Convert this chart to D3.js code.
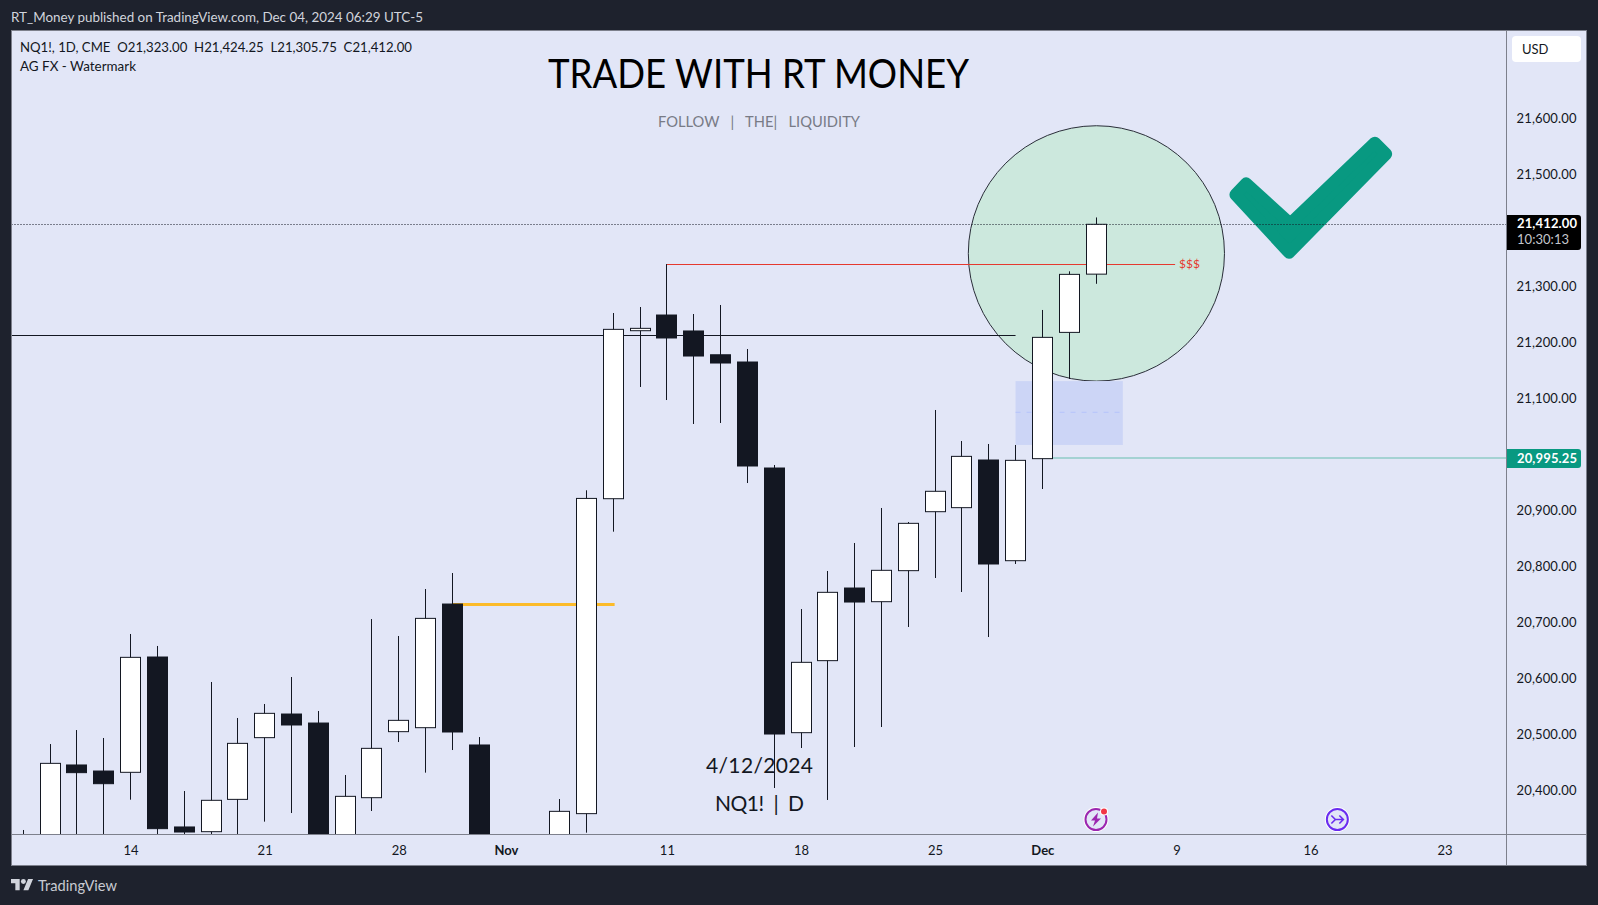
<!DOCTYPE html>
<html><head><meta charset="utf-8">
<script src="https://cdn.jsdelivr.net/npm/d3@7/dist/d3.min.js"></script>
<style>
html,body{margin:0;padding:0;background:#1e222d;overflow:hidden}
svg{display:block}
text{font-family:Lato,"Noto Sans",sans-serif;white-space:pre}
</style></head><body><svg id="c" width="1598" height="905"></svg>
<script>
// ---------- data ----------
const dates=["Oct 8","Oct 9","Oct 10","Oct 11","Oct 14","Oct 15","Oct 16","Oct 17","Oct 18","Oct 21","Oct 22","Oct 23","Oct 24","Oct 25","Oct 28","Oct 29","Oct 30","Oct 31","Nov 1","Nov 4","Nov 5","Nov 6","Nov 7","Nov 8","Nov 11","Nov 12","Nov 13","Nov 14","Nov 15","Nov 18","Nov 19","Nov 20","Nov 21","Nov 22","Nov 25","Nov 26","Nov 27","Nov 29","Dec 2","Dec 3","Dec 4"];
const opens =[20200,20280,20446.5,20435.7,20433.4,20639.3,20335.8,20327.4,20385.1,20495.3,20537.5,20521.4,20300,20388.1,20506,20513.1,20733.9,20482.2,20200,20230,20190,20359.6,20922,21222,21250,21221.5,21179,21166.1,20976.8,20504.2,20632.8,20762.5,20738.1,20793.5,20898.8,20906,20991.1,20811.3,20993.5,21219,21323];
const highs =[20330.4,20483.9,20508.9,20494.7,20680.4,20659,20400,20594.7,20530.4,20555.4,20603.6,20542.9,20428.6,20707.1,20676.8,20760.7,20789.3,20496.4,20310,20300,20385.7,20937,21253.6,21264.3,21341,21251.8,21267.9,21189.3,20982.2,20725,20792.9,20842.9,20905.4,20880.4,21080.4,21025,21019.7,21017.9,21259,21328,21424.25];
const lows  =[20180,20250,20300,20300,20384.5,20310,20315,20318,20300,20345.3,20360.7,20250,20280,20364.3,20487.5,20432.8,20473.2,20230,20150,20130,20170,20325.6,20863.1,21121.5,21098.2,21055.4,21057.2,20950,20405.4,20476.8,20384,20478.6,20514.3,20692.9,20780.4,20755.4,20675,20805.4,20939.3,21135.8,21305.75];
const closes=[20290,20449.4,20432.8,20413.1,20638.7,20332.8,20326.8,20383.4,20485.1,20538.7,20517.9,20280,20390.5,20476.2,20526.2,20708.3,20505.4,20250,20230,20190,20363.7,20922.5,21224.4,21226.2,21209,21176.8,21164.3,20980.4,20501.8,20629.8,20754.8,20737.5,20794.1,20878,20935.2,20997.6,20805.4,20990.5,21210.1,21322.6,21412];

const yTickValues=[21600,21500,21300,21200,21100,20900,20800,20700,20600,20500,20400];
const xTickIdx   =[4,9,14,18,24,29,34,38,43,48,53];
const xTickLabels=["14","21","28","Nov","11","18","25","Dec","9","16","23"];
const xTickBold  =["Nov","Dec"];

const lastPrice=21412, prevClose=20995.25;
const levelBlack=21213.75, levelBlackEnd=37;
const levelYellow=20733.9, yellowFrom=16, yellowTo=22.05;
const levelRed=21341, redFrom=24, redTo=42.95;
const zoneTop=21132, zoneBottom=21018, zoneMid=21076.3, zoneFrom=37, zoneTo=41;
const circleIdx=40, circleRx=4.776, circleTop=21588, circleBottom=21132;
const checkIdx  =[45.6,45.2,47.2,50.82,50.4,47.24];
const checkPrice=[21485.2,21465,21361.1,21537.5,21557.7,21413.4];

// ---------- layout ----------
const L=11.5,R=1586.5,T=30.5,B=865.5,AX=1506.5,AY=834.5;
const x=d3.scaleLinear().domain([0,40]).range([23.3,1096]);
const y=d3.scaleLinear().domain([20400,21600]).range([791.02,119.02]);
const ink="#131722", bg="#e2e6f7";

const svg=d3.select("#c");
svg.append("rect").attr("width",1598).attr("height",905).attr("fill","#1e222d");
svg.append("rect").attr("x",L).attr("y",T).attr("width",R-L).attr("height",B-T).attr("fill",bg).attr("stroke","#7d808c");
svg.append("clipPath").attr("id","pane").append("rect").attr("x",L+.5).attr("y",T+.5).attr("width",AX-L-1).attr("height",AY-T-1);
const p=svg.append("g").attr("clip-path","url(#pane)");

// circle + zone
p.append("ellipse").attr("cx",x(circleIdx)+.4).attr("cy",(y(circleTop)+y(circleBottom))/2)
 .attr("rx",x(circleIdx+circleRx)-x(circleIdx)).attr("ry",(y(circleBottom)-y(circleTop))/2)
 .attr("fill","#cce8dd").attr("stroke","#2a2e39").attr("stroke-width",1);
p.append("rect").attr("x",x(zoneFrom)).attr("width",x(zoneTo)-x(zoneFrom)).attr("y",y(zoneTop)).attr("height",y(zoneBottom)-y(zoneTop)).attr("fill","#ccd5f6");
p.append("line").attr("x1",x(zoneFrom)).attr("x2",x(zoneTo)).attr("y1",y(zoneMid)).attr("y2",y(zoneMid)).attr("stroke","#b5c4fb").attr("stroke-dasharray","5 6");

// check mark
p.append("path").attr("d",d3.line().x(i=>x(checkIdx[i])).y(i=>y(checkPrice[i])).curve(d3.curveLinearClosed)(d3.range(checkIdx.length)))
 .attr("fill","#089981").attr("stroke","#089981").attr("stroke-width",12).attr("stroke-linejoin","round");

// level lines
const hline=(v,a,b,w)=>{const yy=w%2?Math.round(y(v))+.5:Math.round(y(v));
  return p.append("line").attr("x1",a).attr("x2",b).attr("y1",yy).attr("y2",yy).attr("stroke-width",w);};
hline(levelBlack,L,x(levelBlackEnd),1).attr("stroke",ink);
hline(levelYellow,x(yellowFrom),x(yellowTo),3).attr("stroke","#fcbb2a");
hline(levelRed,x(redFrom),x(redTo),1).attr("stroke","#e5392f");
p.append("text").attr("x",x(redTo)+4).attr("y",y(levelRed)).attr("dy","0.35em").attr("fill","#e5392f").attr("font-size",12).text("$$$");
hline(prevClose,x(38),AX,2).attr("stroke","#a4d2d3");

// candles
const idx=d3.range(dates.length);
const cg=p.append("g").selectAll("g").data(idx).join("g");
cg.append("line").attr("x1",i=>Math.floor(x(i))+.5).attr("x2",i=>Math.floor(x(i))+.5)
  .attr("y1",i=>y(highs[i])).attr("y2",i=>y(lows[i])).attr("stroke",ink).attr("stroke-width",1);
cg.append("rect").attr("x",i=>Math.floor(x(i))-9.5).attr("width",20)
  .attr("y",i=>y(Math.max(opens[i],closes[i])))
  .attr("height",i=>Math.abs(y(opens[i])-y(closes[i])))
  .attr("fill",i=>closes[i]>=opens[i]?"#ffffff":ink).attr("stroke",ink).attr("stroke-width",1);

// last price dotted line (above everything in the pane)
hline(lastPrice,L,AX,1).attr("stroke",ink).attr("stroke-dasharray","1 2");

// axis frame
svg.append("line").attr("x1",AX).attr("x2",AX).attr("y1",T).attr("y2",B).attr("stroke","#7d808c");
svg.append("line").attr("x1",L).attr("x2",R).attr("y1",AY).attr("y2",AY).attr("stroke","#7d808c");

// axes
const ya=svg.append("g").attr("transform",`translate(${AX},0)`)
 .call(d3.axisRight(y).tickValues(yTickValues).tickSize(0).tickPadding(10).tickFormat(d3.format(",.2f")));
ya.select(".domain").remove();
ya.selectAll("text").attr("font-family","Lato").attr("font-size",13).attr("fill",ink).attr("dy","0.3em")
  .attr("textLength",60);

const xa=svg.append("g").attr("transform",`translate(0,${AY})`)
 .call(d3.axisBottom(x).tickValues(xTickIdx).tickSize(0).tickPadding(11).tickFormat((d,i)=>xTickLabels[i]));
xa.select(".domain").remove();
xa.selectAll("text").attr("font-family","Lato").attr("font-size",13).attr("fill",ink)
  .attr("font-weight",(d,i)=>xTickBold.includes(xTickLabels[i])?700:400);

// price labels
const tag=(t,h,fill)=>svg.append("path").attr("fill",fill)
 .attr("d",`M${AX+.5} ${t}H1578a3 3 0 0 1 3 3V${t+h-3}a3 3 0 0 1 -3 3H${AX+.5}Z`);
tag(215,35,"#000000");
svg.append("text").attr("x",1517).attr("y",228).attr("fill","#fff").attr("font-size",13).attr("font-weight",700).attr("textLength",60).text(d3.format(",.2f")(lastPrice));
svg.append("text").attr("x",1517).attr("y",244).attr("fill","#c4c6cc").attr("font-size",13).attr("textLength",52).text("10:30:13");
tag(449,19,"#089981");
svg.append("text").attr("x",1517).attr("y",463).attr("fill","#fff").attr("font-size",13).attr("font-weight",700).attr("textLength",60).text(d3.format(",.2f")(prevClose));

// USD button
svg.append("rect").attr("x",1512).attr("y",36).attr("width",69).attr("height",26).attr("rx",4).attr("fill","#fff");
svg.append("text").attr("x",1522).attr("y",54).attr("fill",ink).attr("font-size",13).text("USD");

// header + texts
const fit=(s,xx,yy,fs,col,len,mode)=>svg.append("text").attr("x",xx).attr("y",yy).attr("fill",col).attr("font-size",fs)
  .attr("textLength",len).attr("lengthAdjust",mode||"spacingAndGlyphs").text(s);
fit("RT_Money published on TradingView.com, Dec 04, 2024 06:29 UTC-5",11,22,13.5,"#d1d4dc",412);
fit("NQ1!, 1D, CME  O21,323.00  H21,424.25  L21,305.75  C21,412.00",20,51.5,13.5,ink,392);
fit("AG FX - Watermark",20,71,13.5,ink,116);
fit("TRADE WITH RT MONEY",548,88,40,"#000",421);
fit("FOLLOW   |   THE|   LIQUIDITY",658,127,15,"#787b86",202);
svg.append("text").attr("x",706).attr("y",773).attr("fill",ink).attr("font-family","DejaVu Sans").attr("font-size",21).attr("textLength",107).attr("lengthAdjust","spacing").text("4/12/2024");
svg.append("text").attr("x",715).attr("y",811).attr("fill",ink).attr("font-family","DejaVu Sans").attr("font-size",21).attr("textLength",89).text("NQ1!  |  D");

// event icons
const ev=svg.append("g").attr("transform",`translate(${x(40)},819.5)`);
ev.append("circle").attr("r",12.5).attr("fill","#fff");
ev.append("circle").attr("r",10.5).attr("fill",bg).attr("stroke","#9c27b0").attr("stroke-width",2);
ev.append("path").attr("d","M2 -7L-5 1H-1L-3 7L5 -1H1Z").attr("fill","#9c27b0");
ev.append("circle").attr("cx",8).attr("cy",-8).attr("r",4).attr("fill","#fff");
ev.append("circle").attr("cx",8).attr("cy",-8).attr("r",3).attr("fill","#f23645");
const ev2=svg.append("g").attr("transform",`translate(${x(49)},819.5)`);
ev2.append("circle").attr("r",12.5).attr("fill","#fff");
ev2.append("circle").attr("r",10.5).attr("fill",bg).attr("stroke","#6a2cf0").attr("stroke-width",2);
ev2.append("path").attr("d","M-6 -4L-2 0L-6 4M-2 0H6M2 -4L6 0L2 4").attr("fill","none").attr("stroke","#6a2cf0").attr("stroke-width",1.6);

// footer
const logo=svg.append("g").attr("transform","translate(11,876.5) scale(0.62)").attr("fill","#d1d4dc");
logo.append("path").attr("d","M14 22H7V11H0V4h14v18zM28 22h-8l7.5-18h8L28 22z");
logo.append("circle").attr("cx",20).attr("cy",8).attr("r",4);
fit("TradingView",38,891,15,"#c8cad2",79);
</script></body></html>
